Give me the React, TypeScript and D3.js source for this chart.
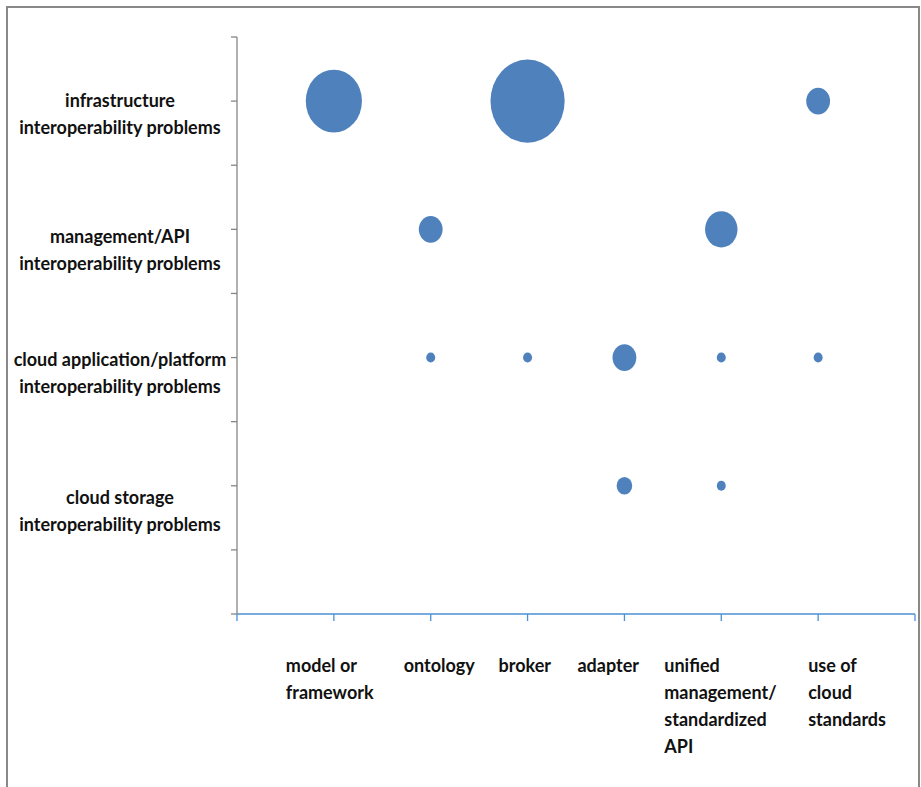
import React, { useEffect } from "react";
import * as d3 from "d3";

const xCategories = [
  ["model or", "framework"],
  ["ontology"],
  ["broker"],
  ["adapter"],
  ["unified", "management/", "standardized", "API"],
  ["use of", "cloud", "standards"],
];
const yCategories = [
  ["cloud storage", "interoperability problems"],
  ["cloud application/platform", "interoperability problems"],
  ["management/API", "interoperability problems"],
  ["infrastructure", "interoperability problems"],
];
const yCategoryValues = [2, 4, 6, 8];

// bubble points: x category index (1-based), y value, size
const pointX = [1, 3, 6, 2, 5, 2, 3, 4, 5, 6, 4, 5];
const pointY = [8, 8, 8, 6, 6, 4, 4, 4, 4, 4, 2, 2];
const pointSize = [39, 68, 7, 7, 13, 1, 1, 7, 1, 1, 3, 1];

const xTicks = [0, 1, 2, 3, 4, 5, 6, 7];
const yTicks = [0, 1, 2, 3, 4, 5, 6, 7, 8, 9];

const W = 921;
const H = 787;
const FONT = "Lato, 'Open Sans', sans-serif";
const labelDx = [-48, -27, -29, -47, -57, -10];
const labelDy = [18, 8, 14, 6];

export default function App() {
  useEffect(() => {
    document.body.style.margin = "0";
  }, []);

  const x = d3.scaleLinear().domain([0, 7]).range([237, 915]);
  const y = d3.scaleLinear().domain([0, 9]).range([614, 37]);
  const r = d3.scaleSqrt().domain([0, 68]).range([0, 37.1]);
  const aspect = 1.12;

  return (
    <svg width={W} height={H} style={{ display: "block" }}>
      <rect x={0} y={0} width={W} height={H} fill="#fff" />
      <path d={`M7,${H} L7,7 L919,7 L919,${H}`} fill="none" stroke="#888" strokeWidth={2} />

      {/* y axis */}
      <line x1={x(0)} x2={x(0)} y1={y(9)} y2={y(0)} stroke="#868686" strokeWidth={1.3} />
      {yTicks.map((t) => (
        <line key={"yt" + t} x1={x(0) - 6} x2={x(0)} y1={y(t)} y2={y(t)} stroke="#868686" strokeWidth={1.3} />
      ))}

      {/* x axis */}
      <line x1={x(0)} x2={x(7)} y1={y(0)} y2={y(0)} stroke="#4a90d6" strokeWidth={1.6} />
      {xTicks.map((t) => (
        <line key={"xt" + t} x1={x(t)} x2={x(t)} y1={y(0)} y2={y(0) + 7} stroke="#4a90d6" strokeWidth={1.3} />
      ))}

      {/* bubbles */}
      {pointX.map((px, i) => (
        <ellipse
          key={"b" + i}
          cx={x(px)}
          cy={y(pointY[i])}
          rx={r(pointSize[i])}
          ry={r(pointSize[i]) * aspect}
          fill="#4f81bd"
        />
      ))}

      {/* y labels */}
      {yCategories.map((lines, i) => (
        <text
          key={"yl" + i}
          x={120}
          y={y(yCategoryValues[i]) + labelDy[i]}
          textAnchor="middle"
          fontFamily={FONT}
          fontWeight={700}
          fontSize={18}
          fill="#111"
        >
          {lines.map((l, j) => (
            <tspan key={j} x={120} dy={j === 0 ? 0 : 27}>
              {l}
            </tspan>
          ))}
        </text>
      ))}

      {/* x labels */}
      {xCategories.map((lines, i) => (
        <text
          key={"xl" + i}
          x={x(i + 1) + labelDx[i]}
          y={672}
          fontFamily={FONT}
          fontWeight={700}
          fontSize={18}
          fill="#111"
        >
          {lines.map((l, j) => (
            <tspan key={j} x={x(i + 1) + labelDx[i]} dy={j === 0 ? 0 : 27}>
              {l}
            </tspan>
          ))}
        </text>
      ))}
    </svg>
  );
}
